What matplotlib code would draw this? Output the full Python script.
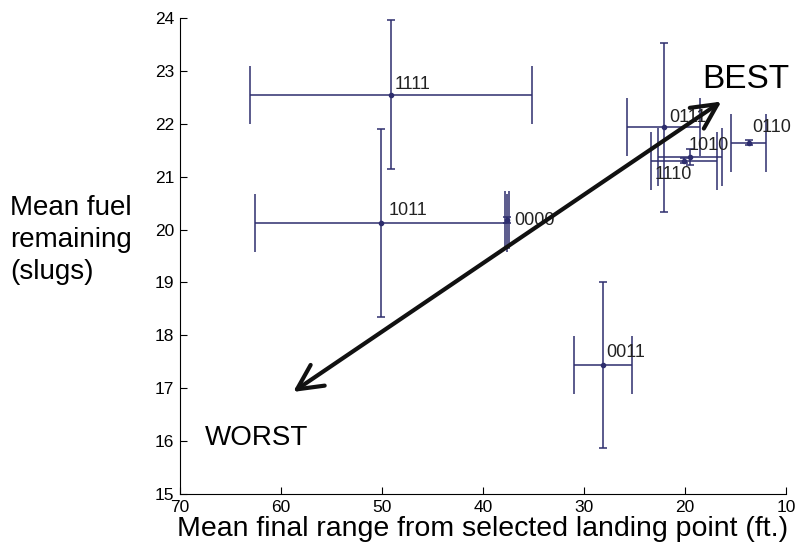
import matplotlib
matplotlib.use('Agg')
import matplotlib.pyplot as plt

# mean final range (ft) and mean fuel remaining (slugs) per control mode
modes = ['1111', '1011', '0000', '0011', '0111', '0110', '1010', '1110']
range_mean = [49.1, 50.1, 37.6, 28.1, 22.1, 13.7, 19.5, 20.1]
range_err = [14.0, 12.5, 0.2, 2.85, 3.6, 1.75, 3.2, 3.3]
fuel_mean = [22.55, 20.13, 20.18, 17.44, 21.93, 21.64, 21.37, 21.30]
fuel_err = [1.41, 1.78, 0.05, 1.57, 1.6, 0.05, 0.15, 0.05]

# label offsets in pixels (dx, dy)
label_offsets = [(4, 10), (8, 12), (7, 0), (3, 12), (5, 10), (4, 15), (-1, 12), (-29, -14)]

navy = '#2e2e6e'
font = 'Liberation Sans'

fig = plt.figure(figsize=(7.95, 5.5), dpi=100)
ax = fig.add_axes([0.2264, 0.1018, 0.7623, 0.8655])

# horizontal error bars with tall caps
ax.errorbar(range_mean, fuel_mean, xerr=range_err, fmt='none', ecolor=navy,
            elinewidth=1.1, capsize=21, capthick=1.1)
# vertical error bars with short caps
ax.errorbar(range_mean, fuel_mean, yerr=fuel_err, fmt='o', color=navy, ms=3,
            ecolor=navy, elinewidth=1.1, capsize=3, capthick=1.1)

for m, x, y, off in zip(modes, range_mean, fuel_mean, label_offsets):
    ax.annotate(m, (x, y), xytext=off, textcoords='offset pixels',
                ha='left', va='center', fontsize=13, family=font, color='#222222')

# best / worst direction arrow
ax.annotate('', xy=(16.4, 22.42), xytext=(58.8, 16.93),
            arrowprops=dict(arrowstyle='<->,head_length=0.9,head_width=0.45',
                            mutation_scale=20, lw=3, color='#111111',
                            shrinkA=0, shrinkB=0))
ax.text(18.3, 22.83, 'BEST', fontsize=24, family=font, va='center', ha='left')
ax.text(67.5, 16.06, 'WORST', fontsize=20, family=font, va='center', ha='left')

ax.set_xlim(70, 10)
ax.set_ylim(15, 24)
ax.set_xticks(range(70, 9, -10))
ax.set_yticks(range(15, 25))
ax.spines['top'].set_visible(False)
ax.spines['right'].set_visible(False)
ax.tick_params(direction='in', length=5, labelsize=12.5, pad=4)
for lab in ax.get_xticklabels() + ax.get_yticklabels():
    lab.set_family(font)

ax.set_xlabel('Mean final range from selected landing point (ft.)',
              fontsize=20.5, family=font, labelpad=1)
fig.text(0.013, 0.563, 'Mean fuel\nremaining\n(slugs)', fontsize=20,
         family=font, ha='left', va='center', linespacing=1.3)

fig.savefig('out.png', dpi=100)
